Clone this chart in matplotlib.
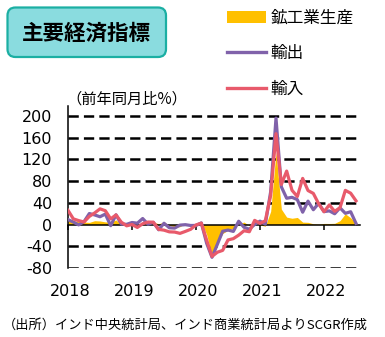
import numpy as np
import matplotlib
matplotlib.use("Agg")
import matplotlib.pyplot as plt
from matplotlib.patches import FancyBboxPatch, Patch
from matplotlib.lines import Line2D
import matplotlib.transforms as mtransforms

# ---- data (Jan 2018 - Jul 2022, YoY %) ----
iip = [7.5, 7.0, 5.3, 4.5, 3.9, 7.0, 6.5, 4.8, 4.6, 8.4, 0.2, 2.6,
       1.6, 0.2, 0.4, 4.3, 4.6, 1.3, 4.9, -1.4, -4.6, -4.0, 2.1, 0.4,
       2.2, 5.2, -18.7, -57.3, -33.4, -16.6, -10.5, -7.1, 1.0, 4.5, -1.9, 2.2,
       -0.9, -3.2, 24.2, 133.5, 28.4, 13.6, 11.5, 13.0, 4.4, 4.0, 1.3, 0.7,
       2.0, 1.9, 2.2, 7.1, 19.7, 12.3, 2.2]
exports = [9.1, 4.5, -0.7, 5.2, 20.2, 17.6, 14.3, 19.2, -2.2, 17.9, 0.8, 0.3,
           3.7, 2.4, 11.0, 0.6, 3.9, -9.7, 2.3, -6.0, -6.6, -1.1, -0.3, -1.8,
           -1.7, 2.9, -34.6, -60.3, -36.5, -12.4, -10.2, -12.7, 6.0, -5.1, -8.7, 0.1,
           6.2, 0.7, 60.3, 195.7, 69.4, 48.3, 50.0, 45.8, 22.6, 43.0, 27.2, 38.9,
           23.7, 25.1, 19.8, 30.7, 20.6, 23.5, 2.1]
imports = [26.1, 10.4, 7.2, 4.6, 14.9, 21.3, 28.8, 25.4, 10.4, 17.6, 4.3, -2.4,
           0.0, -5.4, 1.4, 4.5, 4.3, -9.0, -10.4, -13.5, -13.9, -16.3, -12.7, -8.8,
           -0.8, 2.5, -28.7, -58.7, -51.0, -47.6, -28.4, -26.0, -19.6, -11.5, -13.3, 7.6,
           2.0, 7.0, 53.7, 167.1, 73.6, 98.3, 63.0, 51.5, 84.8, 62.5, 57.2, 38.1,
           23.5, 36.1, 24.2, 30.9, 62.8, 57.6, 43.6]
years = ["2018", "2019", "2020", "2021", "2022"]
yticks = [-80, -40, 0, 40, 80, 120, 160, 200]
series_names = ["鉱工業生産", "輸出", "輸入"]
title = "主要経済指標"
unit_label = "（前年同月比%）"
source = "（出所）インド中央統計局、インド商業統計局よりSCGR作成"

C_YEL = "#FFC000"
C_PUR = "#8062AA"
C_RED = "#E85A6B"
JP = ["Noto Sans CJK JP", "DejaVu Sans"]
NUM = ["DejaVu Sans"]

W, H = 385, 337
fig = plt.figure(figsize=(W / 100, H / 100), dpi=100)
ax_left, ax_right = 68, 360
ax_bot, ax_top = 268, 106
ax = fig.add_axes([ax_left / W, (H - ax_bot) / H, (ax_right - ax_left) / W, (ax_bot - ax_top) / H])

x = np.arange(len(iip))
ax.fill_between(x, iip, 0, color=C_YEL, linewidth=0, zorder=1.5)
ax.plot(x, exports, color=C_PUR, lw=2.3, zorder=3, solid_joinstyle="round")
ax.plot(x, imports, color=C_RED, lw=2.3, zorder=3.1, solid_joinstyle="round")

ax.set_xlim(0, 54.75)
ax.set_ylim(-80, 218)

# y axis
ax.set_yticks(yticks)
ax.set_yticklabels([str(v) for v in yticks], fontsize=11.5, family=NUM)
ax.tick_params(axis="y", length=0, pad=11.5)
ax.set_axisbelow(True)
ax.grid(axis="y", color="black", lw=1.8, linestyle=(0, (7.4 / 1.8, 3.7 / 1.8)))
for tv, gl in zip(yticks, ax.yaxis.get_gridlines()):
    if tv == 0:
        gl.set_visible(False)

# spines
for s in ["top", "right"]:
    ax.spines[s].set_visible(False)
ax.spines["left"].set_linewidth(1.1)
ax.spines["bottom"].set_position(("data", 0))
ax.spines["bottom"].set_linewidth(1.1)

# x ticks at year boundaries, labels at bottom
ax.set_xticks([12 * i for i in range(len(years))])
ax.tick_params(axis="x", length=3.6, width=1.1, direction="out", labelbottom=False)
trans = mtransforms.blended_transform_factory(ax.transData, ax.transAxes)
for i, yr in enumerate(years):
    ax.text(12 * i + 0.45, -24 / (ax_bot - ax_top), yr, transform=trans,
            ha="center", va="center", fontsize=11.5, family=NUM)

# unit label
fig.text(66 / W, 1 - 99 / H, unit_label, ha="left", va="center", fontsize=11, family=JP)

# title box
box = FancyBboxPatch((7.5, H - 57), 158.5, 49.5, boxstyle="round,pad=0,rounding_size=8",
                     transform=None, facecolor="#8ADCDF", edgecolor="#1BAFA3", lw=1.6)
fig.add_artist(box)
fig.text(86.5 / W, 1 - 33 / H, title, ha="center", va="center", fontsize=15.5,
         fontweight="bold", family=JP)

# legend
handles = [Patch(facecolor=C_YEL, edgecolor="none"),
           Line2D([], [], color=C_PUR, lw=2.4),
           Line2D([], [], color=C_RED, lw=2.4)]
fig.legend(handles, series_names, loc="upper left", bbox_to_anchor=(227 / W, 1 - 10 / H),
           frameon=False, prop={"family": JP, "size": 12}, handlelength=2.35,
           handleheight=0.7, handletextpad=0.25, labelspacing=1.1, borderpad=0,
           borderaxespad=0)

# source
fig.text(3 / W, 1 - 325 / H, source, ha="left", va="center", fontsize=9.5, family=JP)

fig.savefig("out.png", dpi=100)
